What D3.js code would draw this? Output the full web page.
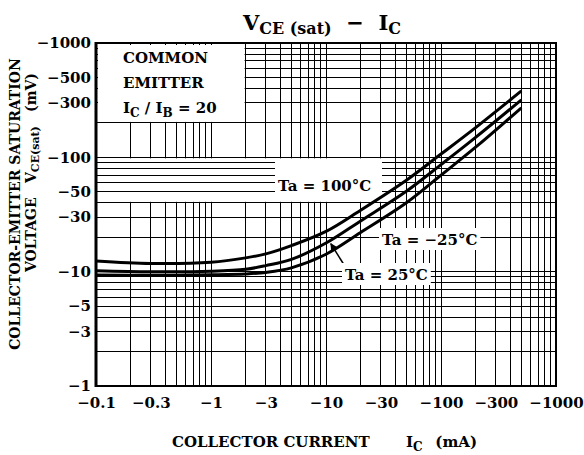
<!DOCTYPE html>
<html>
<head>
<meta charset="utf-8">
<script src="https://cdn.jsdelivr.net/npm/d3@7"></script>
<style>
	body { margin: 0; background: #fff; }
	.c-svg { width: 584px; height: 455px; }
	text { font-family: "DejaVu Serif", serif; font-weight: bold; fill: #000; white-space: pre; }
</style>
</head>
<body>
<div class="c-svg"></div>
<script>
//DATA
//-------------------------------------------------------------------------

//collector current (mA), shared by the three curves
const currentMA = [0.1, 0.3, 1, 2, 3, 5, 10, 20, 50, 100, 200, 500];

//collector-emitter saturation voltage (mV), one list per ambient temperature
const vce100 = [12.4, 11.8, 12.1, 13.2, 14.3, 16.9, 22.5, 34.5, 63.1, 106.8, 182, 381];
const vce25 = [10.2, 10.0, 10.1, 10.5, 11.3, 12.8, 17.8, 27.8, 50.5, 86.3, 149.3, 318];
const vceMinus25 = [9.35, 9.3, 9.4, 9.55, 9.85, 10.8, 14.2, 22.0, 40.0, 69.8, 122.6, 271.4];

const seriesNames = ["Ta = 100°C", "Ta = 25°C", "Ta = −25°C"];

//tick labels
const xTickValues = [0.1, 0.3, 1, 3, 10, 30, 100, 300, 1000];
const yTickValues = [1, 3, 5, 10, 30, 50, 100, 300, 500, 1000];


//INITIALISATION
//-------------------------------------------------------------------------

const opts = {
	container: ".c-svg",
	width: 584,
	height: 455,
	margin: {
		top: 43,
		right: 28,
		bottom: 69,
		left: 96
	}
};

const innerChart = {
	width: opts.width - opts.margin.left - opts.margin.right,
	height: opts.height - opts.margin.top - opts.margin.bottom
};

const svg = d3.select(opts.container)
	.append("svg")
	.attr("width", opts.width)
	.attr("height", opts.height);

const g = svg.append("g")
	.attr("transform", `translate(${opts.margin.left} ${opts.margin.top})`);

const x = d3.scaleLog()
	.domain([0.1, 1000])
	.range([0, innerChart.width]);

const y = d3.scaleLog()
	.domain([1, 1000])
	.range([innerChart.height, 0]);

const series = [vce100, vce25, vceMinus25].map((vals, i) => ({
	name: seriesNames[i],
	values: currentMA.map((c, j) => ({ c: c, v: vals[j] }))
}));


//GRID
//-------------------------------------------------------------------------

const grid = g.append("g")
	.attr("class", "grid")
	.attr("stroke", "#000")
	.attr("stroke-width", 1)
	.attr("shape-rendering", "crispEdges");

grid.selectAll(".gx")
	.data(x.ticks())
	.join("line")
	.attr("class", "gx")
	.attr("x1", (d) => x(d))
	.attr("x2", (d) => x(d))
	.attr("y1", 0)
	.attr("y2", innerChart.height);

grid.selectAll(".gy")
	.data(y.ticks())
	.join("line")
	.attr("class", "gy")
	.attr("x1", 0)
	.attr("x2", innerChart.width)
	.attr("y1", (d) => y(d))
	.attr("y2", (d) => y(d));


//LEGEND BOX (top left)
//-------------------------------------------------------------------------

g.append("rect")
	.attr("x", 2)
	.attr("y", 2)
	.attr("width", x(2) - 3)
	.attr("height", y(200) - 3)
	.attr("fill", "#fff");

const legend = svg.append("g").style("font-size", "15px");

legend.append("text").attr("x", 123).attr("y", 63).text("COMMON");
legend.append("text").attr("x", 123).attr("y", 88).text("EMITTER");

const ratio = legend.append("text").attr("x", 123).attr("y", 113);
ratio.append("tspan").text("I");
ratio.append("tspan").attr("dy", 4).style("font-size", "12px").text("C");
ratio.append("tspan").attr("dy", -4).text(" / I");
ratio.append("tspan").attr("dy", 4).style("font-size", "12px").text("B");
ratio.append("tspan").attr("dy", -4).text(" = 20");


//BAND LEFT OF THE 100°C LABEL
//-------------------------------------------------------------------------

//vertical grid is blanked there, only the horizontal lines run to the label
g.append("rect")
	.attr("x", 2)
	.attr("y", y(100) + 1)
	.attr("width", 380 - opts.margin.left)
	.attr("height", y(40) - y(100) - 2)
	.attr("fill", "#fff");

g.append("g")
	.attr("stroke", "#000")
	.attr("stroke-width", 1)
	.attr("shape-rendering", "crispEdges")
	.selectAll("line")
	.data([50, 60, 70, 80, 90])
	.join("line")
	.attr("x1", 0)
	.attr("x2", 275 - opts.margin.left)
	.attr("y1", (d) => y(d))
	.attr("y2", (d) => y(d));


//CURVE LABELS
//-------------------------------------------------------------------------

const labelPos = [[278, 191], [345, 280], [382, 245]];

const labels = svg.append("g").style("font-size", "15px");

series.forEach((s, i) => {
	const t = labels.append("text")
		.attr("x", labelPos[i][0])
		.attr("y", labelPos[i][1])
		.text(s.name);
	const b = t.node().getBBox();
	labels.insert("rect", "text")
		.attr("x", b.x - 3)
		.attr("y", b.y - 3)
		.attr("width", b.width + 6)
		.attr("height", b.height + 4)
		.attr("fill", "#fff");
});


//CURVES
//-------------------------------------------------------------------------

const line = d3.line()
	.x((d) => x(d.c))
	.y((d) => y(d.v))
	.curve(d3.curveCatmullRom.alpha(0.5));

g.append("g")
	.selectAll("path")
	.data(series)
	.join("path")
	.attr("d", (d) => line(d.values))
	.attr("fill", "none")
	.attr("stroke", "#000")
	.attr("stroke-width", 3)
	.attr("stroke-linecap", "butt");

//arrow from the 25°C label to its curve
svg.append("defs")
	.append("marker")
	.attr("id", "arrow")
	.attr("viewBox", "0 0 10 10")
	.attr("refX", 9)
	.attr("refY", 5)
	.attr("markerWidth", 9)
	.attr("markerHeight", 7)
	.attr("markerUnits", "userSpaceOnUse")
	.attr("orient", "auto")
	.append("path")
	.attr("d", "M0,0 L10,5 L0,10 Z")
	.attr("fill", "#000");

g.append("line")
	.attr("x1", 346 - opts.margin.left)
	.attr("y1", 268 - opts.margin.top)
	.attr("x2", x(11))
	.attr("y2", y(17.6))
	.attr("stroke", "#000")
	.attr("stroke-width", 1.5)
	.attr("marker-end", "url(#arrow)");


//FRAME
//-------------------------------------------------------------------------

g.append("rect")
	.attr("width", innerChart.width)
	.attr("height", innerChart.height)
	.attr("fill", "none")
	.attr("stroke", "#000")
	.attr("stroke-width", 2);

g.append("line")
	.attr("x1", 0).attr("x2", 0)
	.attr("y1", -1).attr("y2", innerChart.height + 1)
	.attr("stroke", "#000")
	.attr("stroke-width", 3);


//AXIS
//-------------------------------------------------------------------------

const xAxis = d3.axisBottom(x)
	.tickValues(xTickValues)
	.tickSize(0)
	.tickPadding(11)
	.tickFormat((d) => "−" + d);

const yAxis = d3.axisLeft(y)
	.tickValues(yTickValues)
	.tickSize(0)
	.tickPadding(5)
	.tickFormat((d) => "−" + d);

g.append("g")
	.attr("class", "axis x_axis")
	.attr("transform", `translate(0 ${innerChart.height})`)
	.call(xAxis);

g.append("g")
	.attr("class", "axis y_axis")
	.call(yAxis);

g.selectAll(".axis .domain").remove();
g.selectAll(".axis text")
	.style("font-family", "\"DejaVu Serif\", serif")
	.style("font-weight", "bold")
	.style("font-size", "15px")
	.attr("fill", "#000");


//TITLES
//-------------------------------------------------------------------------

const title = svg.append("text")
	.attr("x", 322)
	.attr("y", 30)
	.attr("text-anchor", "middle")
	.style("font-size", "21px");
title.append("tspan").text("V");
title.append("tspan").attr("dy", 4).style("font-size", "16px").text("CE (sat)");
title.append("tspan").attr("dy", -4).text("  −  ");
title.append("tspan").text("I");
title.append("tspan").attr("dy", 4).style("font-size", "16px").text("C");

//x title
const xTitle = svg.append("g").style("font-size", "15px");
xTitle.append("text").attr("x", 172).attr("y", 447).text("COLLECTOR CURRENT");
const ic = xTitle.append("text").attr("x", 406).attr("y", 447);
ic.append("tspan").text("I");
ic.append("tspan").attr("dy", 4).style("font-size", "12px").text("C");
xTitle.append("text").attr("x", 477).attr("y", 447).attr("text-anchor", "end").text("(mA)");

//y title, two rotated lines
const yTitle = svg.append("g").style("font-size", "14px");
yTitle.append("text")
	.attr("transform", "translate(20 204) rotate(-90)")
	.attr("text-anchor", "middle")
	.text("COLLECTOR-EMITTER SATURATION");
yTitle.append("text")
	.attr("transform", "translate(36 272) rotate(-90)")
	.text("VOLTAGE");
const vce = yTitle.append("text")
	.attr("transform", "translate(36 183) rotate(-90)");
vce.append("tspan").text("V");
vce.append("tspan").attr("dy", 3).style("font-size", "11px").text("CE(sat)");
yTitle.append("text")
	.attr("transform", "translate(36 73) rotate(-90)")
	.attr("text-anchor", "end")
	.text("(mV)");
</script>
</body>
</html>
